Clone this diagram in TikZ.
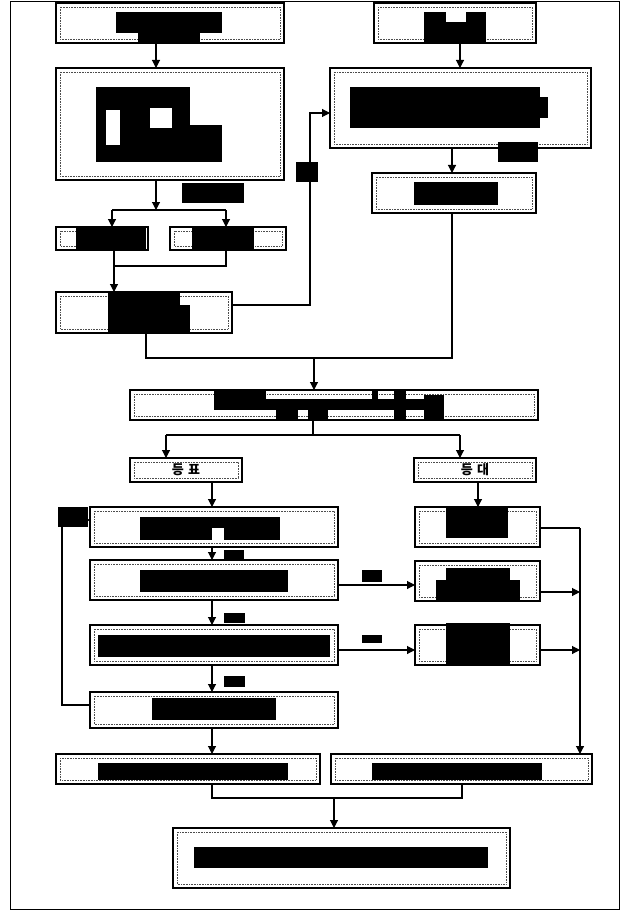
\documentclass[tikz,border=0pt]{standalone}
\usepackage{fontspec}
\newfontfamily\kr{Noto Sans CJK KR}
\usetikzlibrary{arrows.meta}
\newcommand\myblob[4]{\fill[black] (#1,#2) rectangle (#3,#4);}
\newcommand\myhole[4]{\fill[white] (#1,#2) rectangle (#3,#4);}
\tikzset{
  box/.style={draw, line width=1.1pt, inner sep=0pt, outer sep=0pt},
  innerline/.style={line width=0.6pt, densely dotted, black!70},
  conn/.style={line width=1.1pt},
  arr/.style={conn, -{Triangle[length=8pt,width=8pt]}},
  lbl/.style={font=\kr\bfseries\fontsize{13}{13}\selectfont}
}
\begin{document}
\begin{tikzpicture}[x=1pt,y=-1pt]
\useasboundingbox (0,0) rectangle (626,912);
\fill[white] (0,0) rectangle (626,912);
% frame
\draw[line width=1pt] (10,2) rectangle (619,909);
% boxes
\node[box, minimum width=228pt, minimum height=40pt] (A) at (170,23) {};
\node[box, minimum width=162pt, minimum height=40pt] (B) at (455,23) {};
\node[box, minimum width=228pt, minimum height=112pt] (C) at (170,124) {};
\node[box, minimum width=261pt, minimum height=80pt] (D) at (460.5,108) {};
\node[box, minimum width=164pt, minimum height=40pt] (E) at (454,193) {};
\node[box, minimum width=92pt, minimum height=23pt] (F1) at (102,238.5) {};
\node[box, minimum width=116pt, minimum height=23pt] (F2) at (228,238.5) {};
\node[box, minimum width=176pt, minimum height=41pt] (G) at (144,312.5) {};
\node[box, minimum width=408pt, minimum height=30pt] (H) at (334,405) {};
\node[box, lbl, minimum width=112pt, minimum height=24pt] (P) at (186,470) {등\,\,표};
\node[box, lbl, minimum width=122pt, minimum height=24pt] (Q) at (475,470) {등\,\,대};
\node[box, minimum width=248pt, minimum height=40pt] (L1) at (214,527) {};
\node[box, minimum width=248pt, minimum height=40pt] (L2) at (214,580) {};
\node[box, minimum width=248pt, minimum height=40pt] (L3) at (214,645) {};
\node[box, minimum width=248pt, minimum height=36pt] (L4) at (214,710) {};
\node[box, minimum width=125pt, minimum height=40pt] (R1) at (477.5,527) {};
\node[box, minimum width=125pt, minimum height=40pt] (R2) at (477.5,581) {};
\node[box, minimum width=125pt, minimum height=40pt] (R3) at (477.5,645) {};
\node[box, minimum width=264pt, minimum height=30pt] (M1) at (188,769) {};
\node[box, minimum width=261pt, minimum height=30pt] (M2) at (461.5,769) {};
\node[box, minimum width=337pt, minimum height=60pt] (Fin) at (341.5,858) {};
% inner dotted border of every box
\foreach \n in {A,B,C,D,E,F1,F2,G,H,P,Q,L1,L2,L3,L4,R1,R2,R3,M1,M2,Fin}
  \draw[innerline] ([shift={(4pt,-4pt)}]\n.north west) rectangle ([shift={(-4pt,4pt)}]\n.south east);
% junction coordinates
\coordinate (j1) at (156,210);
\coordinate (j1a) at (112,210);
\coordinate (j1b) at (226,210);
\coordinate (j2) at (114,266);
\coordinate (j3) at (310,113);
\coordinate (j4a) at (146,358);
\coordinate (j4b) at (452,358);
\coordinate (j4) at (314,358);
\coordinate (j5) at (313,435);
\coordinate (j5a) at (166,435);
\coordinate (j5b) at (460,435);
\coordinate (j6) at (580,528);
\coordinate (j7) at (62,705);
\coordinate (j8a) at (212,798);
\coordinate (j8b) at (462,798);
\coordinate (j8) at (334,798);
% connectors
\draw[arr] (156,0 |- A.south) -- (156,0 |- C.north);
\draw[arr] (460,0 |- B.south) -- (460,0 |- D.north);
\draw[arr] (452,0 |- D.south) -- (452,0 |- E.north);
\draw[arr] (156,0 |- C.south) -- (j1);
\draw[conn] (j1a) -- (j1b);
\draw[arr] (j1a) -- (112,0 |- F1.north);
\draw[arr] (j1b) -- (226,0 |- F2.north);
\draw[arr] (114,0 |- F1.south) -- (114,0 |- G.north);
\draw[conn] (226,0 |- F2.south) |- (j2);
\draw[arr] (G.east |- 0,305) -| (j3) -- (D.west |- j3);
\draw[conn] (146,0 |- G.south) |- (j4b) -- (452,0 |- E.south);
\draw[arr] (j4) -- (314,0 |- H.north);
\draw[conn] (313,0 |- H.south) -- (j5);
\draw[conn] (j5a) -- (j5b);
\draw[arr] (j5a) -- (166,0 |- P.north);
\draw[arr] (j5b) -- (460,0 |- Q.north);
\draw[arr] (212,0 |- P.south) -- (212,0 |- L1.north);
\draw[arr] (478,0 |- Q.south) -- (478,0 |- R1.north);
\draw[arr] (212,0 |- L1.south) -- (212,0 |- L2.north);
\draw[arr] (212,0 |- L2.south) -- (212,0 |- L3.north);
\draw[arr] (212,0 |- L3.south) -- (212,0 |- L4.north);
\draw[arr] (212,0 |- L4.south) -- (212,0 |- M1.north);
\draw[arr] (L2.east |- 0,585) -- (R2.west |- 0,585);
\draw[arr] (L3.east |- 0,650) -- (R3.west |- 0,650);
\draw[conn] (R1.east |- j6) -- (j6);
\draw[arr] (j6) -- (580,0 |- M2.north);
\draw[arr] (R2.east |- 0,592) -- (580,592);
\draw[arr] (R3.east |- 0,650) -- (580,650);
\draw[arr] (L4.west |- j7) -| (62,520) -- (L1.west |- 0,520);
\draw[conn] (212,0 |- M1.south) -- (j8a) -- (j8b) -- (462,0 |- M2.south);
\draw[arr] (j8) -- (334,0 |- Fin.north);
% blacked-out text
\myblob{116}{12}{222}{33}\myblob{138}{33}{200}{43}
\myblob{424}{12}{446}{43}\myblob{446}{22}{466}{43}\myblob{466}{12}{486}{43}
\myblob{96}{87}{190}{162}\myblob{190}{125}{222}{162}
\myhole{106}{110}{120}{145}\myhole{150}{108}{172}{128}
\myblob{350}{87}{540}{128}\myblob{540}{97}{548}{118}
\myblob{498}{142}{538}{162}
\myblob{414}{182}{498}{205}
\myblob{182}{183}{244}{203}
\myblob{296}{162}{318}{182}
\myblob{76}{228}{146}{249}
\myblob{192}{228}{254}{249}
\myblob{108}{292}{180}{333}\myblob{180}{305}{190}{333}
\myblob{214}{389}{266}{410}\myblob{266}{399}{444}{410}
\myblob{276}{410}{298}{419}\myblob{308}{410}{328}{419}
\myblob{394}{389}{406}{419}\myblob{424}{395}{444}{419}\myblob{372}{389}{378}{399}
\myblob{58}{507}{88}{527}
\myblob{140}{517}{280}{528}\myblob{140}{528}{212}{540}\myblob{224}{528}{280}{540}
\myblob{224}{550}{244}{559}
\myblob{140}{570}{288}{592}
\myblob{224}{613}{245}{623}
\myblob{98}{635}{330}{657}
\myblob{224}{676}{245}{687}
\myblob{152}{698}{276}{720}
\myblob{446}{508}{508}{538}
\myblob{446}{568}{510}{580}\myblob{436}{580}{520}{602}
\myblob{446}{623}{510}{665}
\myblob{362}{570}{382}{582}
\myblob{362}{635}{382}{643}
\myblob{98}{763}{288}{780}
\myblob{372}{763}{542}{780}
\myblob{194}{847}{488}{868}
\end{tikzpicture}
\end{document}
